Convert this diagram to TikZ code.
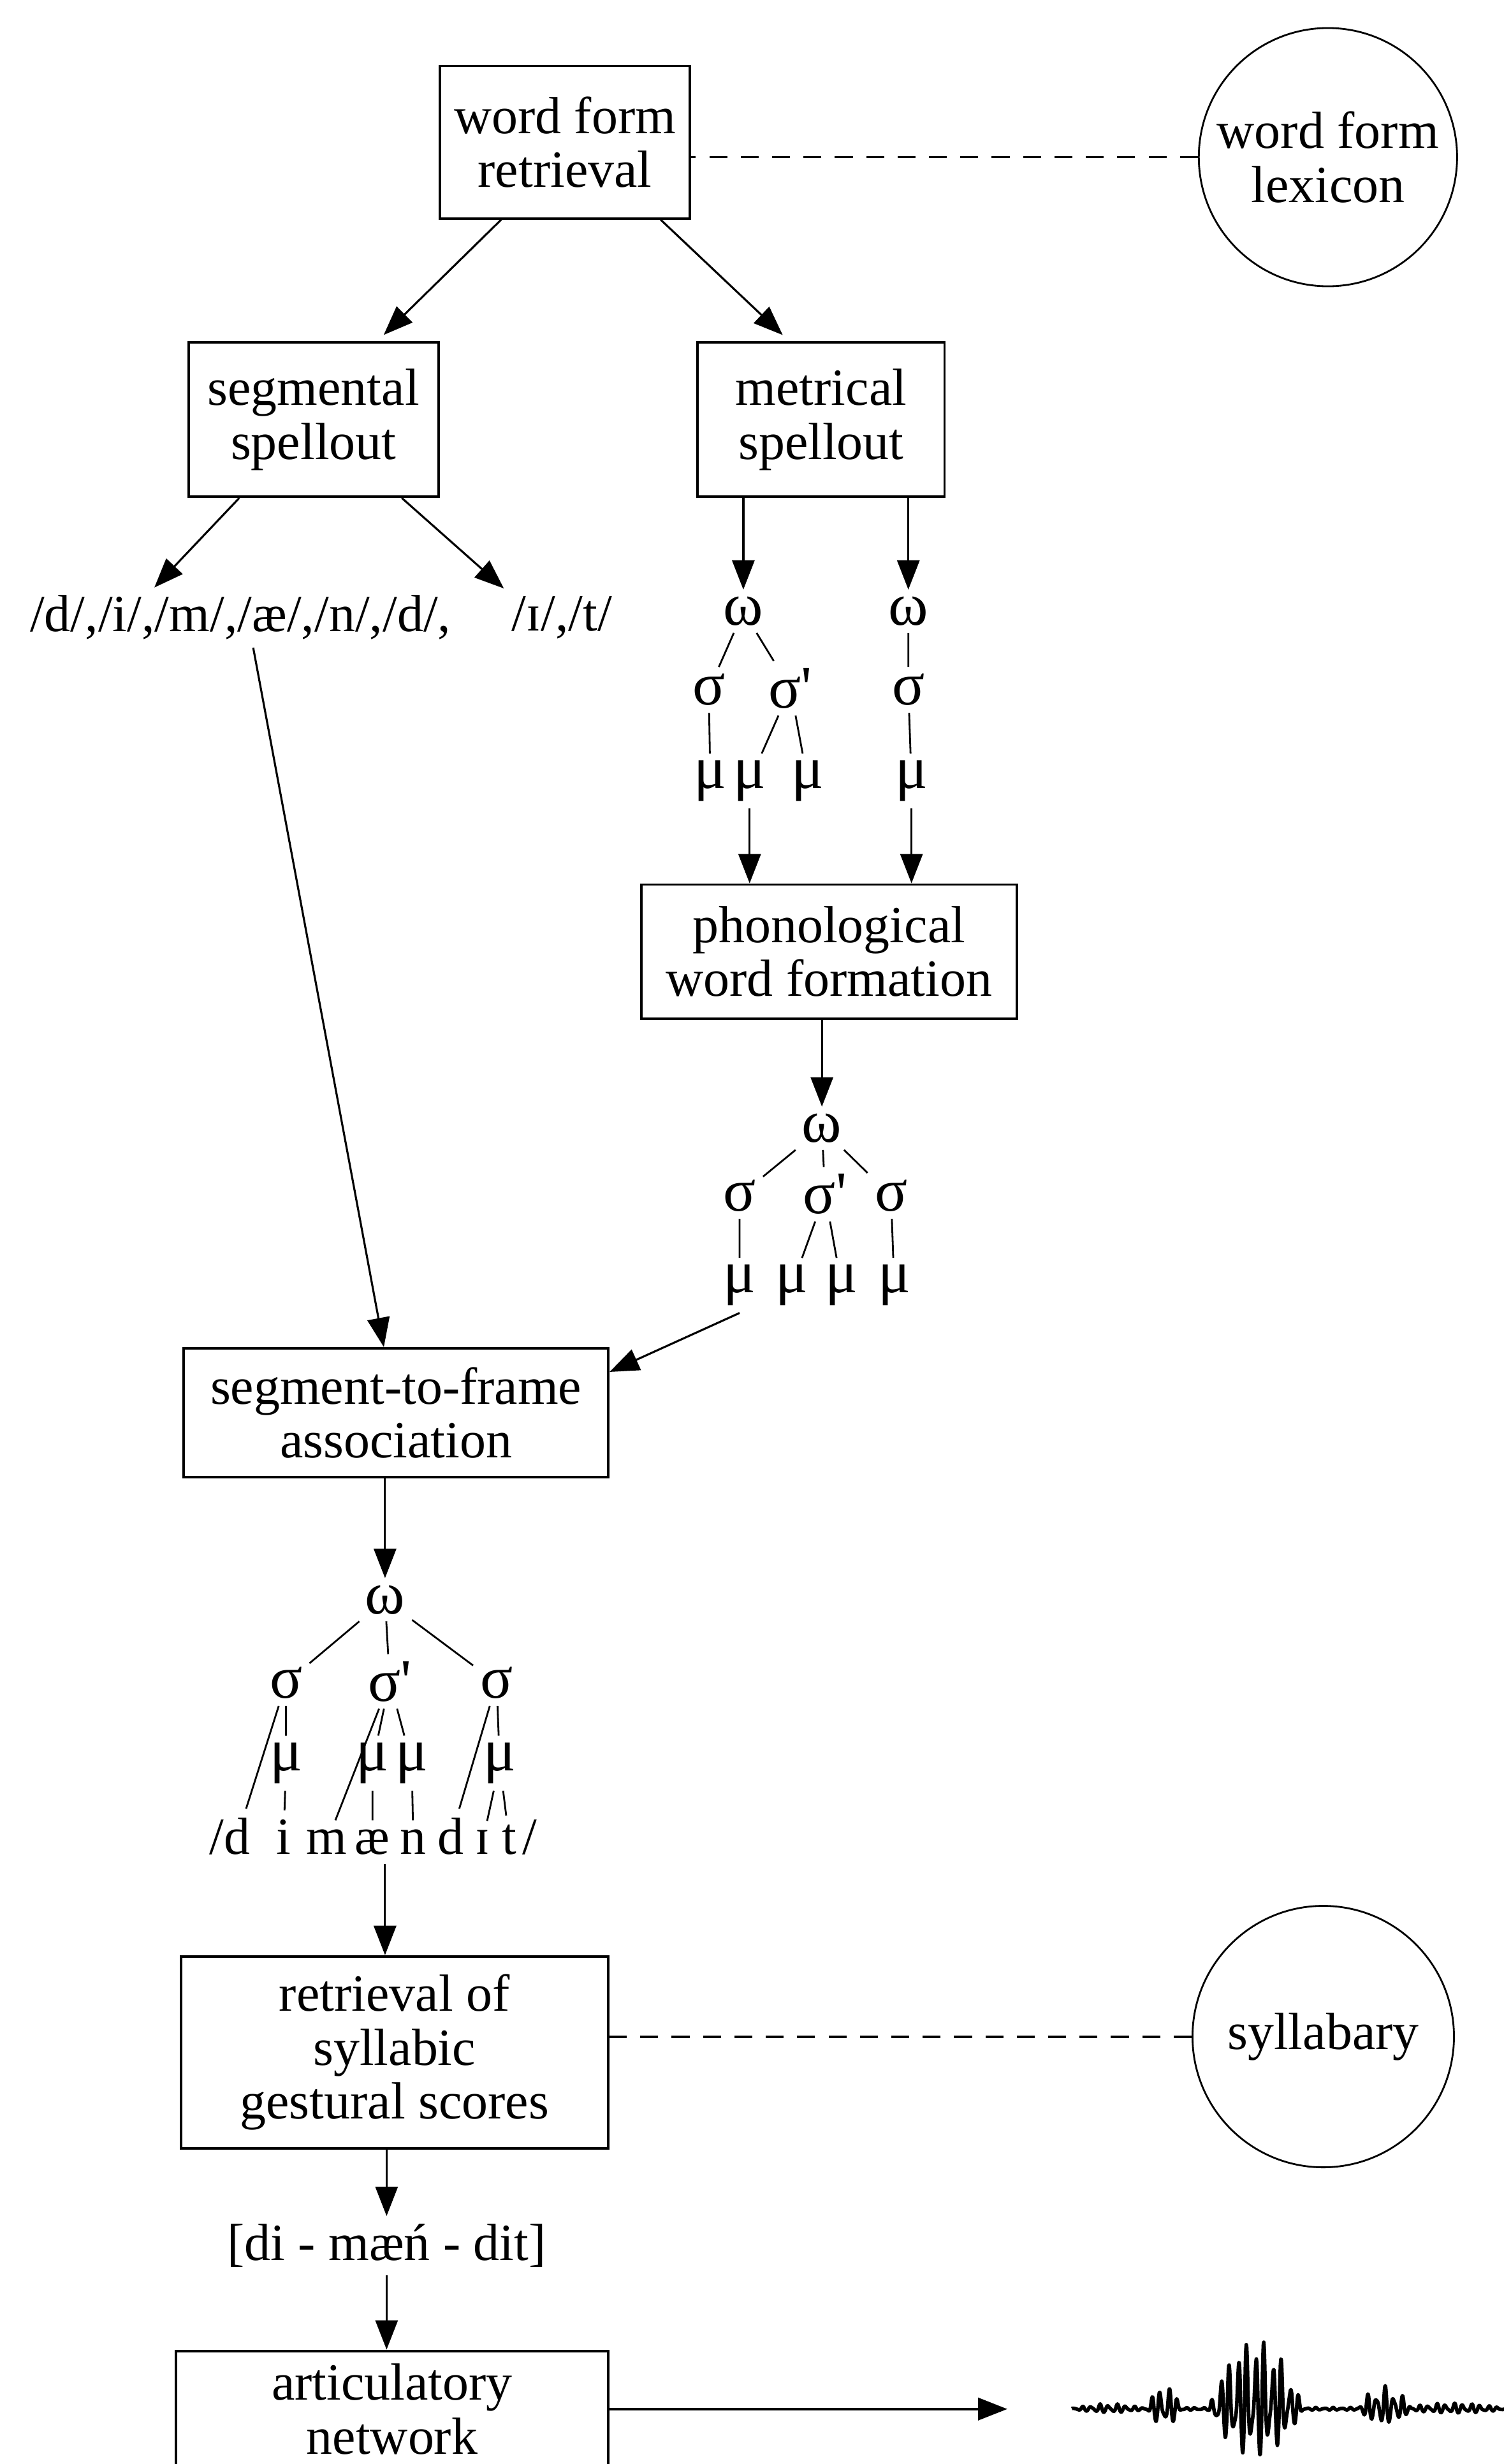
\documentclass[tikz,border=0pt]{standalone}
\usepackage{fontspec}
\setmainfont{Liberation Serif}
\usetikzlibrary{arrows.meta,calc}

\begin{document}
\begin{tikzpicture}[x=0.02465cm,y=-0.02465cm,
    font=\fontsize{23.3}{24}\selectfont,
    >={Triangle[length=4.6mm,width=3.5mm]},
    stagebox/.style={draw,line width=1.1pt,align=center,inner sep=0pt},
    storecirc/.style={circle,draw,line width=0.8pt,align=center,inner sep=0pt,minimum size=4.05cm},
    treesym/.style={inner sep=3pt,font=\fontsize{27}{27}\selectfont},
    segsym/.style={inner sep=4pt,anchor=base},
    treeline/.style={line width=0.8pt},
    flowarrow/.style={->,line width=0.9pt},
    dashlink/.style={line width=1.1pt,dash pattern=on 8pt off 6pt},
    waveline/.style={line width=1.6pt,line join=round},
    declare function={burst(\t,\c,\w)=max(0,1-((\t-\c)/\w)*((\t-\c)/\w));
      env(\t)=46*burst(\t,799,30)+15*burst(\t,741,11)+14*burst(\t,881,17)+3*burst(\t,925,30)+2.5*burst(\t,706,20)+1;
      osc(\t)=0.7*sin(65.45*mod(\t,5.5))+0.3*sin(97.3*mod(\t,3.7));}]

      \useasboundingbox (0,0) rectangle (957,1568);
      \clip (0,0) rectangle (957,1568);

      % processing stages and stores
      \path (359.5,90.5) node [stagebox,minimum width=3.92cm,minimum height=2.39cm](wf_ret){word form\\retrieval};
      \path (845,100) node [storecirc](wf_lex){word form\\lexicon};
      \path (199.5,267) node [stagebox,minimum width=3.92cm,minimum height=2.42cm](seg_sp){segmental\\spellout};
      \path (522.5,267) node [stagebox,minimum width=3.87cm,minimum height=2.42cm](met_sp){metrical\\spellout};
      \path (527.5,605.5) node [stagebox,minimum width=5.89cm,minimum height=2.10cm](phon_wf){phonological\\word formation};
      \path (252,899) node [stagebox,minimum width=6.66cm,minimum height=2.02cm](seg_frame){segment-to-frame\\association};
      \path (251,1306) node [stagebox,minimum width=6.70cm,minimum height=3.01cm](syl_retr){retrieval of\\syllabic\\gestural scores};
      \path (842,1296) node [storecirc,minimum size=4.1cm](syllabary){syllabary};
      \path (249.5,1538) node [stagebox,minimum width=6.78cm,minimum height=2.07cm,text depth=0.25cm](art_net){articulatory\\network};
      \coordinate (speech) at (641,1533);

      % spelled-out segments
      \path (153,393) node (seg_list){/d/,/i/,/m/,/æ/,/n/,/d/,};
      \path (357.5,393) node (seg_tail){/ɪ/,/t/};

      % metrical frames
      \path (473,389) node [treesym](om_a){ω};
      \path (451,439) node [treesym](sg_a1){σ};
      \path (503,438) node [treesym](sg_a2){σ\textquotesingle};
      \path (452,497) node [treesym](mu_a1){μ};
      \path (477,497) node [treesym](mu_a2){μ};
      \path (514,497) node [treesym](mu_a3){μ};
      \path (578,389) node [treesym](om_b){ω};
      \path (578,439) node [treesym](sg_b){σ};
      \path (580,497) node [treesym](mu_b){μ};
      \draw[treeline] (om_a) -- (sg_a1) (om_a) -- (sg_a2) (sg_a1) -- (mu_a1)
        (sg_a2) -- (mu_a2) (sg_a2) -- (mu_a3) (om_b) -- (sg_b) (sg_b) -- (mu_b);

      % phonological word
      \path (523,718) node [treesym](om_c){ω};
      \path (470.6,761) node [treesym](sg_c1){σ};
      \path (525,760) node [treesym](sg_c2){σ\textquotesingle};
      \path (567,761) node [treesym](sg_c3){σ};
      \path (470.6,818) node [treesym](mu_c1){μ};
      \path (504,818) node [treesym](mu_c2){μ};
      \path (535.5,818) node [treesym](mu_c3){μ};
      \path (569,818) node [treesym](mu_c4){μ};
      \draw[treeline] (om_c) -- (sg_c1) (om_c) -- (sg_c2) (om_c) -- (sg_c3)
        (sg_c1) -- (mu_c1) (sg_c2) -- (mu_c2) (sg_c2) -- (mu_c3) (sg_c3) -- (mu_c4);

      % associated word
      \path (245,1018) node [treesym](om_d){ω};
      \path (182,1071) node [treesym](sg_d1){σ};
      \path (248,1070) node [treesym](sg_d2){σ\textquotesingle};
      \path (316,1071) node [treesym](sg_d3){σ};
      \path (182,1122) node [treesym](mu_d1){μ};
      \path (237,1122) node [treesym](mu_d2){μ};
      \path (262,1122) node [treesym](mu_d3){μ};
      \path (318,1122) node [treesym](mu_d4){μ};
      \path (138,1180) node [segsym](sl_l){/};
      \path (151,1180) node [segsym](seg_d1){d};
      \path (180.5,1180) node [segsym](seg_i){i};
      \path (208,1180) node [segsym](seg_m){m};
      \path (237,1180) node [segsym](seg_ae){æ};
      \path (263,1180) node [segsym](seg_n){n};
      \path (287,1180) node [segsym](seg_d2){d};
      \path (307,1180) node [segsym](seg_I){ɪ};
      \path (324,1180) node [segsym](seg_t){t};
      \path (337,1180) node [segsym](sl_r){/};
      \draw[treeline] (om_d) -- (sg_d1) (om_d) -- (sg_d2) (om_d) -- (sg_d3)
        (sg_d1) -- (seg_d1) (sg_d1) -- (mu_d1) (mu_d1) -- (seg_i)
        (sg_d2) -- (seg_m) (sg_d2) -- (mu_d2) (sg_d2) -- (mu_d3) (mu_d2) -- (seg_ae) (mu_d3) -- (seg_n)
        (sg_d3) -- (seg_d2) (sg_d3) -- (mu_d4) (mu_d4) -- (seg_I) (mu_d4) -- (seg_t);

      \path (246,1429) node (phon_out){[di - mæń - dit]};

      % connections
      \draw[dashlink] (wf_lex.west) -- (wf_lex.west -| wf_ret.east);
      \draw[flowarrow,shorten >=4pt] ([xshift=-1cm]wf_ret.south) -- ([xshift=1cm]seg_sp.north);
      \draw[flowarrow,shorten >=4pt] ([xshift=1.5cm]wf_ret.south) -- ([xshift=-0.5cm]met_sp.north);
      \draw[flowarrow] (seg_sp) -- ([xshift=-1.35cm]seg_list.north);
      \draw[flowarrow] (seg_sp) -- (seg_tail.north west);
      \draw[flowarrow] ([xshift=0.2cm]seg_list.south) -- (seg_frame);
      \draw[flowarrow] (met_sp.south -| om_a) -- (om_a);
      \draw[flowarrow] (met_sp.south -| om_b) -- (om_b);
      \draw[flowarrow] (mu_a2) -- (mu_a2 |- phon_wf.north);
      \draw[flowarrow] (mu_b) -- (mu_b |- phon_wf.north);
      \draw[flowarrow] (phon_wf.south -| om_c) -- (om_c);
      \draw[flowarrow] (mu_c1.south) -- ([yshift=0.64cm]seg_frame.east);
      \draw[flowarrow] (seg_frame.south -| om_d) -- (om_d);
      \draw[flowarrow] (seg_ae.south -| om_d) -- (syl_retr.north -| om_d);
      \draw[dashlink] (syllabary.west) -- (syllabary.west -| syl_retr.east);
      \draw[flowarrow] (syl_retr.south -| phon_out) -- (phon_out);
      \draw[flowarrow] (phon_out) -- (phon_out |- art_net.north);
      \draw[flowarrow,line width=1.2pt] (art_net.east |- speech) -- (speech);

      % speech wave
      \draw[waveline] plot[domain=682:960,samples=1000] (\x,{1533-env(\x)*(0.825*osc(\x)+0.175*abs(osc(\x)))});

    \end{tikzpicture}
\end{document}
